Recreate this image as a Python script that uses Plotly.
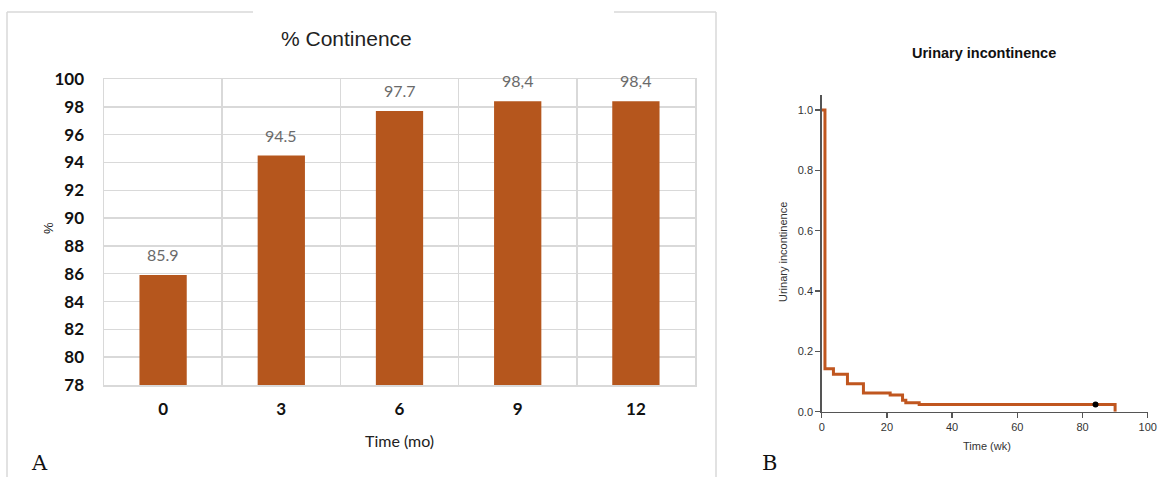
import plotly.graph_objects as go

# Panel A data
months = ["0", "3", "6", "9", "12"]
continence = [85.9, 94.5, 97.7, 98.4, 98.4]
bar_labels = ["85.9", "94.5", "97.7", "98,4", "98,4"]
y_ticks_a = [78, 80, 82, 84, 86, 88, 90, 92, 94, 96, 98, 100]

# Panel B data (Kaplan-Meier step curve)
weeks = [0, 1, 3.6, 7.9, 12.8, 21, 24.8, 25.8, 29.9, 90, 90]
incont = [1.0, 0.142, 0.124, 0.093, 0.062, 0.055, 0.038, 0.030, 0.024, 0.024, 0.0]
censor_t = [84]
censor_y = [0.024]
x_ticks_b = [0, 20, 40, 60, 80, 100]
y_ticks_b = [0.0, 0.2, 0.4, 0.6, 0.8, 1.0]

W, H = 1158, 477
def fx(px): return px / W
def fy(py): return 1 - py / H

BAR_COLOR = "#b5561d"
LINE_COLOR = "#c0561f"
GRID = "#d9d9d9"
NARROW = "Lato, Roboto, sans-serif"
ARIAL = "Liberation Sans, Arial, sans-serif"

fig = go.Figure()

fig.add_trace(go.Bar(x=months, y=continence, marker=dict(color=BAR_COLOR, line=dict(width=0)),
                     xaxis="x", yaxis="y", showlegend=False, hoverinfo="skip"))

for i, (v, t) in enumerate(zip(continence, bar_labels)):
    fig.add_annotation(x=i, y=v, xref="x", yref="y", text=t, showarrow=False,
                       yanchor="bottom", yshift=9,
                       font=dict(family=NARROW, size=16, color="#6a6a6a"))

fig.add_trace(go.Scatter(x=weeks, y=incont, mode="lines", line=dict(color=LINE_COLOR, width=3, shape="hv"),
                         xaxis="x2", yaxis="y2", showlegend=False, hoverinfo="skip"))
fig.add_trace(go.Scatter(x=censor_t, y=censor_y, mode="markers", marker=dict(color="black", size=6),
                         xaxis="x2", yaxis="y2", showlegend=False, hoverinfo="skip"))

fig.update_layout(
    template="none",
    width=W, height=H, margin=dict(l=0, r=0, t=0, b=0, autoexpand=False),
    paper_bgcolor="white", plot_bgcolor="white",
    bargap=0.6,
    xaxis=dict(domain=[fx(104), fx(695)], anchor="y", type="category", range=[-0.5, 4.5],
               automargin=False, showgrid=True, gridcolor=GRID, gridwidth=1.5,
               tickson="boundaries", showline=True, linecolor=GRID, linewidth=1.5, mirror=True,
               ticks="", ticklen=0, fixedrange=True, zeroline=False, ticklabelstandoff=8,
               tickfont=dict(family=NARROW, size=17, color="#111111", weight="bold")),
    yaxis=dict(domain=[fy(385), fy(79)], anchor="x", range=[78, 100], tickvals=y_ticks_a, automargin=False,
               showgrid=True, gridcolor=GRID, gridwidth=1.5, zeroline=False,
               showline=True, linecolor=GRID, linewidth=1.5, mirror=True, ticks="",
               ticklabelstandoff=15,
               tickfont=dict(family=NARROW, size=17, color="#111111", weight="bold")),
    xaxis2=dict(domain=[fx(821.7), fx(1147.7)], anchor="y2", range=[0, 100], tickvals=x_ticks_b,
                automargin=False, showgrid=False, zeroline=False, showline=True, linecolor="#555555",
                linewidth=1.5, ticks="outside", ticklen=5, tickcolor="#555555", tickwidth=1.5,
                ticklabeloverflow="allow",
                tickfont=dict(family=ARIAL, size=11, color="#333333")),
    yaxis2=dict(domain=[fy(411.7), fy(95)], anchor="x2", range=[0, 1.05], tickvals=y_ticks_b,
                automargin=False, tickformat=".1f", showgrid=False, zeroline=False, showline=True,
                linecolor="#555555", linewidth=1.5, ticks="outside", ticklen=5, tickcolor="#555555",
                tickwidth=1.5, tickfont=dict(family=ARIAL, size=11, color="#333333")),
)

def txt(x, y, text, font, angle=0, xanchor="center"):
    fig.add_annotation(x=fx(x), y=fy(y), xref="paper", yref="paper", text=text, showarrow=False,
                       font=font, textangle=angle, xanchor=xanchor, yanchor="middle")

# Titles, axis titles and panel letters
txt(346, 38, "% Continence", dict(family=ARIAL, size=21, color="#222222"))
txt(399, 440, "Time (mo)", dict(family=NARROW, size=16, color="#222222"))
txt(48, 228, "%", dict(family=ARIAL, size=13, color="#222222"), angle=-90)
txt(984, 53, "<b>Urinary incontinence</b>", dict(family=ARIAL, size=14.5, color="#111111"))
txt(987, 446, "Time (wk)", dict(family=ARIAL, size=11, color="#333333"))
txt(783, 252, "Urinary incontinence", dict(family=ARIAL, size=11, color="#333333"), angle=-90)
txt(29, 463, "A", dict(family="DejaVu Serif, Liberation Serif, serif", size=21, color="#111111"), xanchor="left")
txt(760, 463, "B", dict(family="DejaVu Serif, Liberation Serif, serif", size=21, color="#111111"), xanchor="left")

# Frame around panel A (with gap for title)
frame = dict(color="#d9d9d9", width=1.5)
fig.add_shape(type="line", xref="paper", yref="paper", x0=fx(7), x1=fx(253), y0=fy(12), y1=fy(12), line=frame)
fig.add_shape(type="line", xref="paper", yref="paper", x0=fx(614), x1=fx(716), y0=fy(12), y1=fy(12), line=frame)
fig.add_shape(type="line", xref="paper", yref="paper", x0=fx(7), x1=fx(7), y0=fy(12), y1=fy(477), line=frame)
fig.add_shape(type="line", xref="paper", yref="paper", x0=fx(716), x1=fx(716), y0=fy(12), y1=fy(477), line=frame)

# Remove the default page margin so the 1158x477 figure fills the window exactly
fig.write_html("out.html", config={"displayModeBar": False, "staticPlot": True},
               post_script="document.body.style.margin='0';")
